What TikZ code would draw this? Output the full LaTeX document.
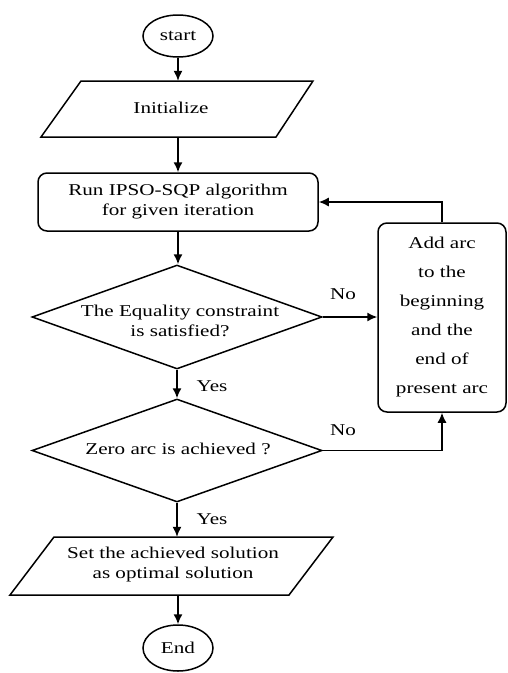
\documentclass[tikz,border=0pt]{standalone}
\usepackage{fontspec}
\setmainfont{Liberation Serif}[FakeStretch=1.28]
\usetikzlibrary{shapes.geometric,arrows.meta}
\begin{document}
\begin{tikzpicture}[x=1pt,y=-1pt,
  every node/.style={font=\fontsize{16.5}{20}\selectfont},
  line/.style={line width=1.5pt},
  arr/.style={line width=1.5pt,-{Latex[length=10pt,width=9pt]}},
  ell/.style={draw,line width=1.5pt,ellipse,inner sep=0pt},
  dia/.style={draw,line width=1.5pt,diamond,inner sep=0pt},
  box/.style={draw,line width=1.5pt,rectangle,rounded corners=9pt,inner sep=0pt},
  hold/.style={rectangle,inner sep=0pt,align=center},
  lbl/.style={inner sep=0pt}
]
\useasboundingbox (0,0) rectangle (508,673);
% start
\node[ell,minimum width=70pt,minimum height=42pt] (start) at (178,36) {start};
% Initialize parallelogram
\draw[line] (81,81) -- (313,81) -- (276,137) -- (41,137) -- cycle;
\node[hold,minimum width=272pt,minimum height=56pt] (init) at (178,109) {};
\node[lbl] (initt) at (171,108) {Initialize};
% Run box
\node[box,minimum width=280pt,minimum height=58pt,align=center] (run) at (178,202) {Run IPSO-SQP algorithm\\for given iteration};
% diamond 1
\node[dia,minimum width=290pt,minimum height=104pt] (d1) at (177,317) {};
\node[lbl,align=center] (d1t) at (180,321) {The Equality constraint\\is satisfied?};
% diamond 2
\node[dia,minimum width=290pt,minimum height=103pt] (d2) at (177,450.5) {};
\node[lbl] (d2t) at (178,449) {Zero arc is achieved ?};
% Set parallelogram
\draw[line] (54,537) -- (333,537) -- (289,595) -- (10,595) -- cycle;
\node[hold,minimum width=323pt,minimum height=58pt] (set) at (171.5,566) {};
\node[lbl,align=center] (sett) at (173,565) {Set the achieved solution\\as optimal solution};
% End
\node[ell,minimum width=70pt,minimum height=46pt] (end) at (178,648) {End};
% right box
\node[box,minimum width=128pt,minimum height=189pt,align=center,font=\fontsize{16.5}{29}\selectfont] (add) at (442,317.5) {Add arc\\to the\\beginning\\and the\\end of\\present arc};
% connectors
\draw[arr] (start.south) -- (start.south |- init.north);
\draw[arr] (init.south) -- (init.south |- run.north);
\draw[arr] (run.south) -- (run.south |- d1.north);
\draw[arr] (d1.south) -- (d1.south |- d2.north);
\draw[arr] (d2.south) -- (d2.south |- set.north);
\draw[arr] (set.south -| end.north) -- (end.north);
\draw[arr] (d1.east) -- (d1.east -| add.west);
\draw[arr] (d2.east) -| (add.south);
\draw[arr] (add.north) |- (run.east);
% labels
\node[lbl] (no1) at (343,294) {No};
\node[lbl] (no2) at (343,430) {No};
\node[lbl] (yes1) at (212,386) {Yes};
\node[lbl] (yes2) at (212,519) {Yes};
\end{tikzpicture}
\end{document}
